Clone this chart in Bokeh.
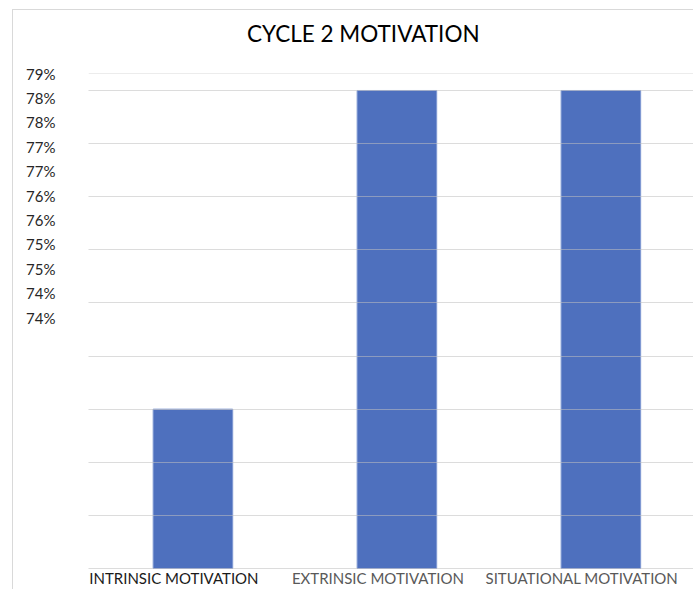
from bokeh.plotting import figure
from bokeh.models import Range1d, LinearAxis, FixedTicker, ColumnDataSource, LabelSet, Span, Div
from bokeh.layouts import column
from bokeh.core.properties import value
from bokeh.embed import file_html
from bokeh.resources import INLINE

# ---- data ----
categories = ["INTRINSIC MOTIVATION", "EXTRINSIC MOTIVATION", "SITUATIONAL MOTIVATION"]
values = [75.5, 78.5, 78.5]
label_colors = ["#1a1a1a", "#595959", "#595959"]
grid_values = [74.0, 74.5, 75.0, 75.5, 76.0, 76.5, 77.0, 77.5, 78.0, 78.5]
tick_values = [74.0, 74.5, 75.0, 75.5, 76.0, 76.5, 77.0, 77.5, 78.0, 78.5, 79.0]
tick_labels = ["74%", "74%", "75%", "75%", "76%", "76%", "77%", "77%", "78%", "78%", "79%"]
title_text = "CYCLE 2 MOTIVATION"

FONT = "Lato"
baseline = 74.0
y_start, y_end = 73.802, 78.66

src = ColumnDataSource(dict(
    x=[i + 0.5 for i in range(len(categories))],
    cat=categories,
    value=values,
    color=label_colors,
    base=[baseline] * len(categories),
))

title_div = Div(
    text=('<div style="padding:10px 0 0 234px;font-family:Lato;font-size:22.5px;'
          'line-height:normal;color:#000;white-space:nowrap;">%s</div>' % title_text),
    width=680, height=53, margin=0)

p = figure(width=680, height=526,
           x_range=Range1d(-0.012, 2.954), y_range=Range1d(y_start, y_end),
           output_backend="svg", toolbar_location=None,
           min_border_left=75, min_border_right=0, min_border_top=10, min_border_bottom=0)
p.margin = 0
p.title.visible = False
p.outline_line_color = None
p.background_fill_color = "white"
p.border_fill_color = "white"

p.xaxis.visible = False
p.yaxis.visible = False
p.xgrid.visible = False
p.ygrid.ticker = FixedTicker(ticks=grid_values)
p.ygrid.grid_line_color = "#bfbfbf"
p.ygrid.grid_line_alpha = 0.55
p.ygrid.level = "overlay"

p.vbar(x="x", top="value", bottom="base", width=0.39, source=src,
       fill_color="#4e70be", line_color="#7f98d2", line_width=1)

top_line = Span(location=y_end, dimension="width", line_color="#d9d9d9", line_width=1)
p.add_layout(top_line)

p.extra_y_ranges = {"labels": Range1d(68.43, 79.0)}
lab_axis = LinearAxis(y_range_name="labels", ticker=FixedTicker(ticks=tick_values))
lab_axis.major_label_overrides = {v: t for v, t in zip(tick_values, tick_labels)}
lab_axis.axis_line_color = None
lab_axis.major_tick_line_color = None
lab_axis.minor_tick_line_color = None
lab_axis.major_label_standoff = 27
lab_axis.major_label_text_font = FONT
lab_axis.major_label_text_font_size = "15px"
lab_axis.major_label_text_color = "#262626"
p.add_layout(lab_axis, "left")

labels = LabelSet(x="x", y="base", text="cat", source=src, text_color="color",
                  text_align="center", text_baseline="alphabetic", x_offset=-19, y_offset=-16,
                  text_font_size="15px", text_font=value(FONT))
p.add_layout(labels)

layout = column(title_div, p, spacing=0)
layout.margin = (9, 0, 0, 12)
layout.styles = {"border-left": "1px solid #d9d9d9", "border-top": "1px solid #d9d9d9"}

open("out.html", "w").write(file_html(layout, INLINE))
